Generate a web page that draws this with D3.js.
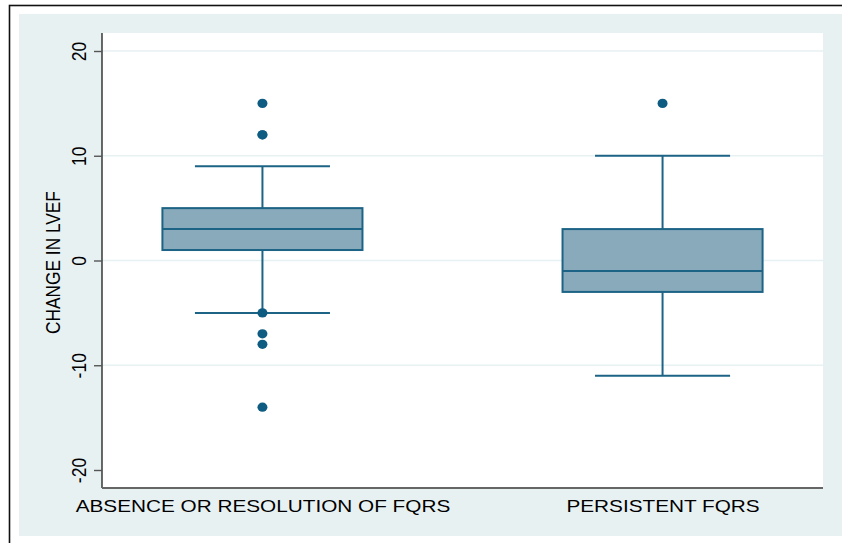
<!DOCTYPE html>
<html>
<head>
<meta charset="utf-8">
<script src="https://cdn.jsdelivr.net/npm/d3@7"></script>
<style>
  html, body { margin: 0; padding: 0; background: #ffffff; }
  svg { display: block; }
  text { font-family: "Liberation Sans", Arial, sans-serif; fill: #000; }
</style>
</head>
<body>
<svg id="chart" width="842" height="543"></svg>
<script>
// ---- data ----
const categories = ["ABSENCE OR RESOLUTION OF FQRS", "PERSISTENT FQRS"];
const q1Values = [1, -3];
const medianValues = [3, -1];
const q3Values = [5, 3];
const whiskerLow = [-5, -11];
const whiskerHigh = [9, 10];
const outliers = [[15, 12, 12, -5, -7, -8, -14], [15]];
const yTicks = [-20, -10, 0, 10, 20];
const yTitle = "CHANGE IN LVEF";

// ---- layout ----
const W = 842, H = 543;
const plot = { left: 102, right: 823, top: 33, bottom: 488 };
const boxFill = "#89aabb", lineColor = "#1c6385", dotColor = "#0f5c82";
const bgColor = "#e8f1f2", gridColor = "#e8f1f2";
const stretch = 1.2; // glyphs in the reference are horizontally widened

const svg = d3.select("#chart");

// outer frame
svg.append("rect").attr("x", 9.5).attr("y", 5.5).attr("width", 900).attr("height", 600)
  .attr("fill", "#ffffff").attr("stroke", "#111").attr("stroke-width", 1.6);
// graph background
svg.append("rect").attr("x", 19).attr("y", 14).attr("width", W - 19).attr("height", 536 - 14)
  .attr("fill", bgColor);
// plot region
svg.append("rect").attr("x", plot.left).attr("y", plot.top)
  .attr("width", plot.right - plot.left).attr("height", plot.bottom - plot.top)
  .attr("fill", "#ffffff");

const y = d3.scaleLinear().domain([-20, 20]).range([470, 51]);
const x = d3.scalePoint().domain(categories).range([plot.left, plot.right]).padding(0.401);
const step = x.step();
const boxW = step * 0.5;
const capW = step * 0.3375;

// gridlines (not at the bottom-most label)
svg.append("g").selectAll("line").data(yTicks.filter(t => t !== -20)).join("line")
  .attr("x1", plot.left).attr("x2", plot.right)
  .attr("y1", d => y(d)).attr("y2", d => y(d))
  .attr("stroke", gridColor).attr("stroke-width", 1.6);

// y axis
const yAxis = d3.axisLeft(y).tickValues(yTicks).tickSize(8).tickPadding(0).tickFormat(d => String(d));
const gy = svg.append("g").attr("transform", `translate(${plot.left},0)`).call(yAxis);
gy.select(".domain").attr("d", `M0,${plot.top}V${plot.bottom}`).attr("stroke", "#2a2a2a").attr("stroke-width", 1.4);
gy.selectAll(".tick line").attr("stroke", "#555").attr("stroke-width", 1.4);
gy.selectAll(".tick text")
  .attr("x", null).attr("dy", null)
  .attr("text-anchor", "middle")
  .attr("transform", `translate(-16,0) scale(${stretch},1) rotate(-90)`)
  .style("font-size", "17.5px")
  .style("font-family", "'Liberation Sans', Arial, sans-serif")
  .attr("fill", "#000");

// x axis line
const xAxis = d3.axisBottom(x).tickSize(0).tickPadding(0);
const gx = svg.append("g").attr("transform", `translate(0,${plot.bottom})`).call(xAxis);
gx.select(".domain").attr("d", `M${plot.left},0H${plot.right}`).attr("stroke", "#666").attr("stroke-width", 1.8);
gx.selectAll(".tick text")
  .attr("y", 24).attr("dy", null)
  .attr("transform", `scale(${stretch},1)`)
  .style("font-size", "17.3px")
  .style("font-family", "'Liberation Sans', Arial, sans-serif")
  .attr("fill", "#000");

// y title
svg.append("text")
  .attr("transform", `translate(59.5,${(y(-20) + y(20)) / 2 + 2}) scale(${stretch},1) rotate(-90)`)
  .attr("text-anchor", "middle")
  .style("font-size", "17.3px")
  .text(yTitle);

// boxes
const g = svg.append("g");
categories.forEach((c, i) => {
  const cx = x(c);
  // whiskers
  g.append("line").attr("x1", cx).attr("x2", cx).attr("y1", y(q3Values[i])).attr("y2", y(whiskerHigh[i]))
    .attr("stroke", lineColor).attr("stroke-width", 2);
  g.append("line").attr("x1", cx).attr("x2", cx).attr("y1", y(q1Values[i])).attr("y2", y(whiskerLow[i]))
    .attr("stroke", lineColor).attr("stroke-width", 2);
  [whiskerHigh[i], whiskerLow[i]].forEach(v => {
    g.append("line").attr("x1", cx - capW / 2).attr("x2", cx + capW / 2).attr("y1", y(v)).attr("y2", y(v))
      .attr("stroke", lineColor).attr("stroke-width", 2);
  });
  // box
  g.append("rect").attr("x", cx - boxW / 2).attr("width", boxW)
    .attr("y", y(q3Values[i])).attr("height", y(q1Values[i]) - y(q3Values[i]))
    .attr("fill", boxFill).attr("stroke", lineColor).attr("stroke-width", 2);
  g.append("line").attr("x1", cx - boxW / 2).attr("x2", cx + boxW / 2)
    .attr("y1", y(medianValues[i])).attr("y2", y(medianValues[i]))
    .attr("stroke", lineColor).attr("stroke-width", 2);
  // outliers
  g.selectAll(null).data(outliers[i]).join("ellipse")
    .attr("cx", cx).attr("cy", d => y(d)).attr("rx", 5).attr("ry", 4.6)
    .attr("fill", dotColor);
});
</script>
</body>
</html>
